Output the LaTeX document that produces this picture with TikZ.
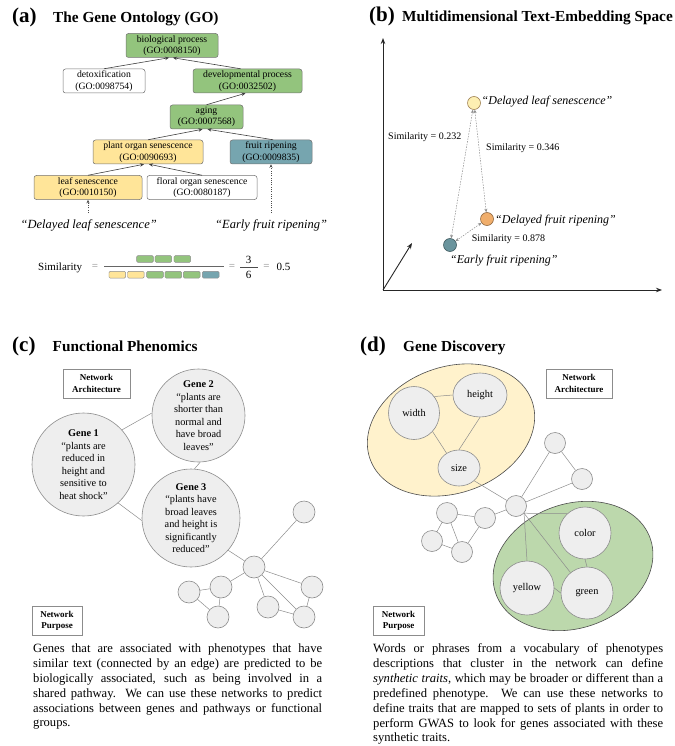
\documentclass[tikz,border=0pt]{standalone}
\usepackage{fontspec}
\setmainfont{Liberation Serif}
\usetikzlibrary{arrows.meta,shapes.geometric}
\definecolor{gogreen}{HTML}{93C47D}
\definecolor{goyellow}{HTML}{FFE599}
\definecolor{goblue}{HTML}{76A5AF}
\definecolor{nodegray}{HTML}{EEEEEE}
\definecolor{edgegray}{HTML}{8C8C8C}
\definecolor{lightyellow}{HTML}{FFF2CC}
\definecolor{lightgreen}{HTML}{BCD8AC}
\definecolor{orangec}{HTML}{F0AE6C}
\definecolor{paleyellow}{HTML}{FDEFB2}
\setlength{\parindent}{0pt}
\tikzset{
  panlabel/.style={font=\fontsize{21}{24}\selectfont\bfseries, anchor=base west, inner sep=0pt},
  ptitle/.style={font=\fontsize{15.3}{18}\selectfont\bfseries, anchor=base west, inner sep=0pt},
  gobox/.style={draw=black!55, rounded corners=2.5pt, line width=0.5pt, align=center, inner sep=0pt,
    minimum height=24pt, font=\fontsize{9.7}{11.5}\selectfont},
  goedge/.style={draw=black!75, line width=0.6pt, -{Stealth[length=4pt,width=3.5pt]}},
  quotetext/.style={font=\fontsize{12.5}{14}\selectfont\itshape, inner sep=0pt, anchor=base west},
  dotarrow/.style={draw=black!70, dash pattern=on 1pt off 1.3pt, line width=0.6pt, -{Stealth[length=3.5pt,width=3pt]}},
  barbox/.style={draw=black!45, rounded corners=1.2pt, line width=0.4pt, minimum width=16.7pt, minimum height=6.7pt, inner sep=0pt},
  eqsign/.style={text=black!45, font=\fontsize{11}{13}\selectfont, inner sep=0pt},
  formtext/.style={font=\fontsize{11}{13}\selectfont, inner sep=0pt},
  axisline/.style={draw=black!85, line width=0.9pt, -{Stealth[length=6pt,width=4.5pt]}},
  embc/.style={circle, line width=0.6pt, inner sep=0pt, minimum size=13pt},
  simlabel/.style={font=\fontsize{10}{12}\selectfont, inner sep=0pt, anchor=base west},
  simarrow/.style={draw=black!45, dash pattern=on 1.5pt off 1.2pt, line width=0.5pt,
    {Stealth[length=3.5pt,width=3pt]}-{Stealth[length=3.5pt,width=3pt]}},
  genec/.style={circle, draw=edgegray, fill=nodegray, line width=0.6pt, align=center, inner sep=0pt,
    font=\fontsize{10.3}{12.5}\selectfont},
  genee/.style={ellipse, draw=edgegray, fill=nodegray, line width=0.6pt, align=center, inner sep=0pt,
    font=\fontsize{10.3}{12.5}\selectfont},
  smallc/.style={circle, draw=edgegray, fill=nodegray, line width=0.6pt, inner sep=0pt, minimum size=22pt},
  smalld/.style={circle, draw=edgegray, fill=nodegray, line width=0.6pt, inner sep=0pt, minimum size=21pt},
  netedge/.style={draw=edgegray, line width=0.5pt},
  netbox/.style={draw=edgegray, line width=0.6pt, fill=white, align=center, inner sep=0pt,
    font=\fontsize{9}{11.2}\selectfont\bfseries, minimum height=29pt},
  cluster/.style={ellipse, draw=black!70, line width=0.6pt, inner sep=0pt},
  para/.style={anchor=north west, inner sep=0pt, text width=290pt, align=justify,
    font=\fontsize{12.6}{14.9}\selectfont},
}
\begin{document}
\begin{tikzpicture}[x=1pt,y=-1pt]
\useasboundingbox (0,0) rectangle (674,746);

% ---------------- (a) ----------------
\node[panlabel] (la) at (12,23) {(a)};
\node[ptitle] (ta) at (53,22.5) {The Gene Ontology (GO)};

\node[gobox, fill=gogreen, minimum width=92pt] (bio) at (172,45.5) {biological process\\(GO:0008150)};
\node[gobox, fill=white, minimum width=82pt] (detox) at (104,81) {detoxification\\(GO:0098754)};
\node[gobox, fill=gogreen, minimum width=109pt] (devel) at (247.5,81) {developmental process\\(GO:0032502)};
\node[gobox, fill=gogreen, minimum width=73pt] (aging) at (206.5,117) {aging\\(GO:0007568)};
\node[gobox, fill=goyellow, minimum width=110pt] (plant) at (148,152) {plant organ senescence\\(GO:0090693)};
\node[gobox, fill=goblue, minimum width=82pt] (fruit) at (271,152) {fruit ripening\\(GO:0009835)};
\node[gobox, fill=goyellow, minimum width=108pt] (leaf) at (88,187.5) {leaf senescence\\(GO:0010150)};
\node[gobox, fill=white, minimum width=110pt] (floral) at (202,187.5) {floral organ senescence\\(GO:0080187)};

\draw[goedge] (detox.north) -- ([xshift=-3pt]bio.south);
\draw[goedge] ([xshift=-7pt]devel.north) -- ([xshift=1pt]bio.south);
\draw[goedge] (aging.north) -- ([xshift=-2pt]devel.south);
\draw[goedge] (plant.north) -- ([xshift=-4pt]aging.south);
\draw[goedge] ([xshift=2pt]fruit.north) -- ([xshift=1pt]aging.south);
\draw[goedge] (leaf.north) -- ([xshift=-4pt]plant.south);
\draw[goedge] (floral.north) -- ([xshift=1pt]plant.south);

\node[quotetext] (qleaf) at (20.5,228.3) {“Delayed leaf senescence”};
\node[quotetext] (qfruit) at (215,228.3) {“Early fruit ripening”};
\coordinate (dleaf) at (88,213);
\coordinate (dfruit) at (271,213);
\draw[dotarrow] (dleaf) -- (leaf.south);
\draw[dotarrow] (dfruit) -- (fruit.south);

% similarity formula
\node[formtext, anchor=base west] (simw) at (38,270) {Similarity};
\node[eqsign] (eq1) at (95,266.5) {=};
\coordinate (fbl) at (104,266.5);
\coordinate (fbr) at (224,266.5);
\draw[black!60, line width=0.8pt] (fbl) -- (fbr);
\node[barbox, fill=gogreen] (t1) at (145,259) {};
\node[barbox, fill=gogreen] (t2) at (163.3,259) {};
\node[barbox, fill=gogreen] (t3) at (182.3,259) {};
\node[barbox, fill=goyellow] (b1) at (117.3,274.7) {};
\node[barbox, fill=goyellow] (b2) at (135.8,274.7) {};
\node[barbox, fill=gogreen] (b3) at (155,274.7) {};
\node[barbox, fill=gogreen] (b4) at (173.3,274.7) {};
\node[barbox, fill=gogreen] (b5) at (191.7,274.7) {};
\node[barbox, fill=goblue] (b6) at (210.7,274.7) {};
\node[eqsign] (eq2) at (232,266.5) {=};
\node[formtext] (num) at (248.5,260.3) {3};
\node[formtext] (den) at (248.5,274.7) {6};
\coordinate (sbl) at (240,267);
\coordinate (sbr) at (258,267);
\draw[black!70, line width=0.7pt] (sbl) -- (sbr);
\node[eqsign] (eq3) at (266.5,266.5) {=};
\node[formtext, anchor=base west] (res) at (276.5,270) {0.5};

% ---------------- (b) ----------------
\node[panlabel] (lb) at (369,22) {(b)};
\node[ptitle] (tb) at (402,22) {Multidimensional Text-Embedding Space};
\coordinate (O) at (383,290);
\coordinate (Yax) at (383,38);
\coordinate (Xax) at (662,290);
\coordinate (Zax) at (412,243);
\draw[axisline] (O) -- (Yax);
\draw[axisline] (O) -- (Xax);
\draw[axisline] (O) -- (Zax);

\node[embc, fill=paleyellow, draw=black!45!paleyellow!60!brown] (dls) at (474,103) {};
\node[embc, fill=orangec, draw=orangec!60!black] (dfr) at (487,219) {};
\node[embc, fill=goblue!90!black, draw=goblue!55!black] (efr) at (450,245) {};
\node[quotetext, font=\fontsize{12}{14}\selectfont\itshape] (tdls) at (481.5,105) {“Delayed leaf senescence”};
\node[quotetext, font=\fontsize{12}{14}\selectfont\itshape] (tdfr) at (495,223) {“Delayed fruit ripening”};
\node[quotetext, font=\fontsize{12}{14}\selectfont\itshape] (tefr) at (450,263.3) {“Early fruit ripening”};
\node[simlabel] (s1) at (388,139.3) {Similarity = 0.232};
\node[simlabel] (s2) at (486,150.7) {Similarity = 0.346};
\node[simlabel] (s3) at (471.7,241.7) {Similarity = 0.878};
\draw[simarrow] (dls) -- (efr);
\draw[simarrow] (dls) -- (dfr);
\draw[simarrow] (dfr) -- (efr);

% ---------------- (c) ----------------
\node[panlabel] (lc) at (12,351) {(c)};
\node[ptitle] (tc) at (52.5,351) {Functional Phenomics};
\node[netbox, minimum width=67pt] (nac) at (96.5,383.5) {Network\\Architecture};

\node[genec, minimum size=103pt] (g1) at (83.5,464.5) {\textbf{Gene 1}\\“plants are\\reduced in\\height and\\sensitive to\\heat shock”};
\node[genec, minimum size=93pt] (g2) at (198.5,415.5) {\textbf{Gene 2}\\“plants are\\shorter than\\normal and\\have broad\\leaves”};
\node[genec, minimum size=98pt] (g3) at (191,518) {\textbf{Gene 3}\\“plants have\\broad leaves\\and height is\\significantly\\reduced”};

\node[smallc] (ch) at (254,567) {};
\node[smallc] (ctr) at (304,512) {};
\node[smallc] (clm) at (221,587) {};
\node[smallc] (cfl) at (189,592) {};
\node[smallc] (cbl) at (218,617) {};
\node[smallc] (cr) at (312,587) {};
\node[smallc] (cbm) at (268,607) {};
\node[smallc] (cbr) at (304,617) {};

\draw[netedge] (g1.42) -- (g2.177);
\draw[netedge] (g2.272) -- (g3.86);
\draw[netedge] (g1.312) -- (g3.183);
\draw[netedge] (g3.319) -- (ch);
\draw[netedge] (ch) -- (ctr);
\draw[netedge] (ch) -- (clm);
\draw[netedge] (clm) -- (cfl);
\draw[netedge] (cfl) -- (cbl);
\draw[netedge] (clm) -- (cbl);
\draw[netedge] (ch) -- (cr);
\draw[netedge] (ch) -- (cbm);
\draw[netedge] (ch) -- (cbr);
\draw[netedge] (cbm) -- (cbr);
\draw[netedge] (cr) -- (cbr);

\node[netbox, minimum width=50pt] (npc) at (57,620.5) {Network\\Purpose};
\node[para, text width=289pt] (parc) at (33,643.5) {Genes that are associated with phenotypes that have\linebreak
similar text (connected by an edge) are predicted to be\linebreak
biologically associated, such as being involved in a\linebreak
shared pathway. We can use these networks to predict\linebreak
associations between genes and pathways or functional\linebreak
groups.};

% ---------------- (d) ----------------
\node[panlabel] (ld) at (360,351) {(d)};
\node[ptitle] (td) at (403,351) {Gene Discovery};

\node[cluster, fill=lightyellow, minimum width=172pt, minimum height=126pt, rotate=20] (ye) at (451,430) {};
\node[cluster, fill=lightgreen, minimum width=164pt, minimum height=124pt, rotate=20] (gre) at (573,566) {};

\node[netbox, minimum width=66pt] (nad) at (579,383.5) {Network\\Architecture};

\node[genee, minimum width=51pt, minimum height=53pt] (wid) at (414,413) {width};
\node[genee, minimum width=54pt, minimum height=44pt] (hei) at (480,395) {height};
\node[genee, minimum width=42pt, minimum height=36pt] (siz) at (459,468) {size};

\node[smalld] (d1) at (555,443) {};
\node[smalld] (d2) at (582,479) {};
\node[smalld] (dh) at (516,506) {};
\node[smalld] (d3) at (485,518) {};
\node[smalld] (d4) at (447,513) {};
\node[smalld] (d5) at (432,541) {};
\node[smalld] (d6) at (462,552) {};

\node[genec, minimum size=52pt] (col) at (585,533) {color};
\node[genec, minimum size=54pt] (yel) at (527,588) {yellow};
\node[genec, minimum size=52pt] (grn) at (587,593) {green};

\draw[netedge] (wid.39) -- (hei.180);
\draw[netedge] (wid.315) -- (siz.130);
\draw[netedge] (hei.south) -- (siz.north);
\draw[netedge] (siz.320) -- (dh);
\draw[netedge] (dh) -- (d1);
\draw[netedge] (d1) -- (d2);
\draw[netedge] (dh) -- (d2);
\draw[netedge] (dh) -- (d3);
\draw[netedge] (d3) -- (d4);
\draw[netedge] (d4) -- (d5);
\draw[netedge] (d4) -- (d6);
\draw[netedge] (d5) -- (d6);
\draw[netedge] (d3) -- (d6);
\draw[netedge] (dh.318) -- (col.132);
\draw[netedge] (dh.318) -- (yel.north);
\draw[netedge] (dh.318) -- (grn.129);
\draw[netedge] (col.south) -- (grn.north);
\draw[netedge] (yel.east) -- (grn.west);

\node[netbox, minimum width=51pt] (npd) at (398.5,620.5) {Network\\Purpose};
\node[para] (pard) at (373,643.5) {Words or phrases from a vocabulary of phenotypes\linebreak
descriptions that cluster in the network can define\linebreak
\textit{synthetic traits}, which may be broader or different than a\linebreak
predefined phenotype. We can use these networks to\linebreak
define traits that are mapped to sets of plants in order to\linebreak
perform GWAS to look for genes associated with these\linebreak
synthetic traits.};
\end{tikzpicture}
\end{document}
